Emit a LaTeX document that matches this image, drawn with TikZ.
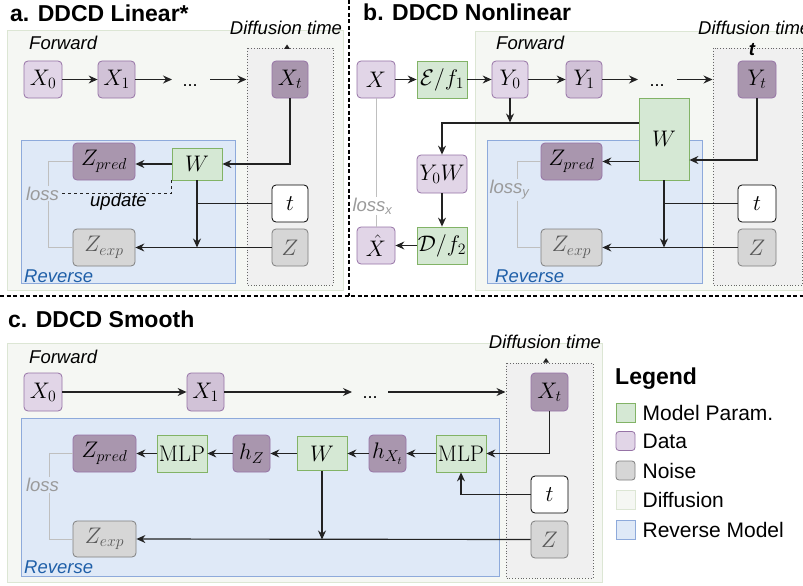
\RequirePackage{fix-cm}
\documentclass[tikz,border=0pt]{standalone}
\usepackage[no-math]{fontspec}
\newfontfamily\lsans{Liberation Sans}
\usetikzlibrary{arrows.meta,calc}

% palette
\definecolor{diffbg}{HTML}{F5F7F3}
\definecolor{diffbd}{HTML}{DCE6D4}
\definecolor{dtbg}{HTML}{F0F0F0}
\definecolor{revbg}{HTML}{DFE9F7}
\definecolor{revbd}{HTML}{8EAADB}
\definecolor{datafill}{HTML}{E1D5E7}
\definecolor{datamid}{HTML}{D1C2D7}
\definecolor{datadark}{HTML}{A996AE}
\definecolor{databd}{HTML}{9673A6}
\definecolor{parfill}{HTML}{D5E8D4}
\definecolor{parbd}{HTML}{82B366}
\definecolor{noisefill}{HTML}{D6D6D6}
\definecolor{noisebd}{HTML}{7F7F7F}
\definecolor{losscol}{HTML}{9A9A9A}
\definecolor{revtxt}{HTML}{1F5FA8}
\definecolor{wire}{HTML}{222222}

\newcommand\boxfnt{\fontsize{22.5}{25}\selectfont}
\newcommand\lblfnt{\lsans\fontsize{18.5}{21}\selectfont\itshape}
\newcommand\ttlfnt{\lsans\fontsize{23}{26}\selectfont\bfseries}
\newcommand\legfnt{\lsans\fontsize{21}{24}\selectfont}

\tikzset{
  sz/.style 2 args={minimum width=#1pt, minimum height=#2pt},
  bx/.style={inner sep=0pt, line width=0.8pt, font=\boxfnt},
  data/.style={bx, rounded corners=4pt, draw=databd, fill=datafill},
  datam/.style={data, fill=datamid},
  datad/.style={data, fill=datadark},
  param/.style={bx, draw=parbd, fill=parfill},
  noise/.style={bx, rounded corners=4pt, draw=noisebd, fill=noisefill, text=black!65},
  tbox/.style={bx, rounded corners=4pt, draw=black, fill=white},
  arr/.style={draw=wire, line width=1.15pt, -{Stealth[length=9pt,width=8pt,inset=3pt]}},
  link/.style={draw=wire, line width=1.15pt},
  lossline/.style={draw=black!25, line width=1pt},
  lbl/.style={font=\lblfnt, inner sep=1pt},
  diffusion/.style={fill=diffbg, draw=diffbd, line width=0.8pt},
  dtime/.style={fill=dtbg, draw=black!60, dotted, line width=0.8pt},
  reverse/.style={fill=revbg, draw=revbd, line width=0.8pt},
  divider/.style={draw=black, line width=1.1pt, dash pattern=on 4pt off 2.5pt},
  legsq/.style={inner sep=0pt, minimum width=19pt, minimum height=19pt, line width=0.8pt},
}

\begin{document}
\begin{tikzpicture}[x=1pt, y=-1pt]
\useasboundingbox (0,0) rectangle (803,586);

% ---------------- panel a: linear ----------------
\node[font=\ttlfnt, anchor=base west, inner sep=0pt] (ta) at (10,21.5) {a. DDCD Linear*};
\draw[diffusion] (7,30) rectangle (343,290);
\draw[dtime] (247,48) rectangle (333,285);
\draw[reverse] (21,140) rectangle (235,283);
\node[lbl, anchor=base west] (afw) at (28,50) {Forward};
\node[lbl, anchor=base] (adt) at (286,35) {Diffusion time};
\fill[wire] (284,49) -- (287,44.5) -- (290,49) -- cycle;
\node[lbl, anchor=base west, text=revtxt] (arv) at (23,282) {Reverse};

\node[data, sz={38}{37}] (aX0) at (43,79.5) {$X_0$};
\node[datam, sz={37}{37}] (aX1) at (116.5,79.5) {$X_1$};
\node[font=\lsans\fontsize{18}{20}\selectfont, anchor=base, inner sep=0pt] (adots) at (190,86) {...};
\node[datad, sz={36}{37}] (aXt) at (290,79.5) {$X_t$};
\coordinate (aE1) at (172,79.5);
\coordinate (aS2) at (210,79.5);
\coordinate (aE2) at (246.5,79.5);

\node[datad, sz={62}{37}] (aZp) at (104,161.5) {$Z_{pred}$};
\node[param, sz={50}{32}] (aW) at (197,164) {$W$};
\node[tbox, sz={36}{37}] (at) at (290,203.5) {$t$};
\node[noise, sz={62}{37}] (aZe) at (104,247.5) {$Z_{exp}$};
\node[noise, sz={36}{37}] (aZ) at (290,247.5) {$Z$};
\node[lbl, text=losscol] (alos) at (42.5,193.5) {loss};
\node[lbl] (aup) at (118.5,202) {update};

\draw[arr] (aX0) -- (aX1);
\draw[arr] (aX1) -- (aE1);
\draw[arr] (aS2) -- (aE2);
\draw[arr] (aXt.south) |- (aW.east);
\draw[arr] (aW.west) -- (aW.west -| aZp.east);
\draw[arr] (aW.south) -- (aW.south |- aZ.west);
\draw[link] (at.west) -- (aW.south |- at.west);
\draw[arr] (aZ.west) -- (aZe.east);
\draw[lossline] (aZp.west) -| ([xshift=5.5pt]alos.north);
\draw[lossline] ([xshift=5.5pt]alos.south) |- (aZe.west);
\draw[link, line width=0.9pt, dashed] ([xshift=2pt]alos.east) -| (aW.south west);

% ---------------- panel b: nonlinear ----------------
\node[font=\ttlfnt, anchor=base west, inner sep=0pt] (tb) at (363,20.5) {b. DDCD Nonlinear};
\draw[diffusion] (475,31) rectangle (810,290);
\draw[dtime] (713,48) rectangle (802,285);
\draw[reverse] (487,140) rectangle (702,283);
\node[lbl, anchor=base west] (bfw) at (495,50) {Forward};
\node[lbl, anchor=base west] (bdt) at (697,35) {Diffusion time};
\node[font=\lsans\fontsize{18.5}{20}\selectfont\bfseries\itshape, inner sep=0pt] (btt) at (752,50) {t};
\node[lbl, anchor=base west, text=revtxt] (brv) at (494,282) {Reverse};

\node[data, sz={38}{37}] (bX) at (376,79.5) {$X$};
\node[param, sz={50}{37}] (bE) at (442,79.5) {$\mathcal{E}/f_1$};
\node[data, sz={36}{37}] (bY0) at (510,79.5) {$Y_0$};
\node[datam, sz={36}{37}] (bY1) at (584,79.5) {$Y_1$};
\node[font=\lsans\fontsize{18}{20}\selectfont, anchor=base, inner sep=0pt] (bdots) at (657,86) {...};
\node[datad, sz={38}{37}] (bYt) at (757,79.5) {$Y_t$};
\coordinate (bE1) at (638,79.5);
\coordinate (bS2) at (677,79.5);
\coordinate (bE2) at (712.5,79.5);

\node[param, sz={50}{82}] (bW) at (664,139) {$W$};
\node[data, sz={50}{38}] (bYW) at (442,174) {$Y_0W$};
\node[param, sz={50}{37}] (bD) at (442,245.5) {$\mathcal{D}/f_2$};
\node[data, sz={38}{37}] (bXh) at (376,245.5) {$\hat{X}$};
\node[datad, sz={61}{37}] (bZp) at (571.5,161.5) {$Z_{pred}$};
\node[noise, sz={61}{37}] (bZe) at (571.5,247.5) {$Z_{exp}$};
\node[tbox, sz={38}{37}] (bt) at (757,203.5) {$t$};
\node[noise, sz={38}{37}] (bZ) at (757,247.5) {$Z$};
\node[lbl, text=losscol] (blx) at (372.5,206) {loss\textsubscript{x}};
\node[lbl, text=losscol] (bly) at (509.5,190) {loss\textsubscript{y}};
\coordinate (bY0j) at (510,122.5);

\draw[arr] (bX) -- (bE);
\draw[arr] (bE) -- (bY0);
\draw[arr] (bY0) -- (bY1);
\draw[arr] (bY1) -- (bE1);
\draw[arr] (bS2) -- (bE2);
\draw[arr] (bY0.south) -- (bY0j);
\draw[arr] ([yshift=16pt]bW.west) -| (bYW.north);
\draw[arr] (bYW) -- (bD);
\draw[arr] (bD) -- (bXh);
\draw[arr] (bYt.south) |- ([yshift=-21pt]bW.east);
\draw[arr] (bW.west |- bZp.east) -- (bZp.east);
\draw[arr] (bW.south) -- (bW.south |- bZ.west);
\draw[link] (bt.west) -- (bW.south |- bt.west);
\draw[arr] (bZ.west) -- (bZe.east);
\draw[lossline] (bX.south) -- (bX.south |- blx.north);
\draw[lossline] (bX.south |- blx.south) -- (bXh.north);
\draw[lossline] (bZp.west) -| ([xshift=7.5pt]bly.north);
\draw[lossline] ([xshift=7.5pt]bly.south) |- (bZe.west);

% section dividers
\draw[divider] (349,0) -- (349,296);
\draw[divider] (0,296) -- (803,296);

% ---------------- panel c: smooth ----------------
\node[font=\ttlfnt, anchor=base west, inner sep=0pt] (tc) at (8,327) {c. DDCD Smooth};
\draw[diffusion] (7,343) rectangle (602,582);
\draw[dtime] (506,363) rectangle (593,578);
\draw[reverse] (21,418) rectangle (499,576);
\node[lbl, anchor=base west] (cfw) at (28,363) {Forward};
\node[lbl, anchor=base] (cdt) at (545,348) {Diffusion time};
\fill[wire] (543,362.5) -- (546,358) -- (549,362.5) -- cycle;
\node[lbl, anchor=base west, text=revtxt] (crv) at (23,573) {Reverse};

\node[data, sz={38}{38}] (cX0) at (43,392) {$X_0$};
\node[datam, sz={37}{38}] (cX1) at (205.5,392) {$X_1$};
\node[font=\lsans\fontsize{18}{20}\selectfont, anchor=base, inner sep=0pt] (cdots) at (370,398) {...};
\node[datad, sz={37}{38}] (cXt) at (549.5,392) {$X_t$};
\coordinate (cE1) at (352,392);
\coordinate (cS2) at (388,392);
\coordinate (cE2) at (505.5,392);

\node[datad, sz={63}{37}] (cZp) at (104.5,453.5) {$Z_{pred}$};
\node[param, sz={50}{37}] (cM1) at (182,453.5) {$\mathrm{MLP}$};
\node[datad, sz={37}{37}] (chZ) at (251.5,453.5) {$h_Z$};
\node[param, sz={50}{34}] (cW) at (322,453.5) {$W$};
\node[datad, sz={37}{37}] (chX) at (387.5,453.5) {$h_{X_t}$};
\node[param, sz={50}{37}] (cM2) at (461,453.5) {$\mathrm{MLP}$};
\node[tbox, sz={37}{37}] (ct) at (549.5,494.5) {$t$};
\node[noise, sz={37}{37}] (cZ) at (549.5,539.5) {$Z$};
\node[noise, sz={63}{36}] (cZe) at (104.5,539) {$Z_{exp}$};
\node[lbl, text=losscol] (clos) at (42.5,485) {loss};

\draw[arr] (cX0) -- (cX1);
\draw[arr] (cX1) -- (cE1);
\draw[arr] (cS2) -- (cE2);
\draw[arr] (cXt.south) |- (cM2.east);
\draw[arr] (cM2) -- (chX);
\draw[arr] (chX) -- (cW);
\draw[arr] (cW) -- (chZ);
\draw[arr] (chZ) -- (cM1);
\draw[arr] (cM1) -- (cZp);
\draw[arr] (ct.west) -| (cM2.south);
\draw[arr] (cW.south) -- (cW.south |- cZ.west);
\draw[arr] (cZ.west) -- (cZe.east);
\draw[lossline] (cZp.west) -| ([xshift=6.5pt]clos.north);
\draw[lossline] ([xshift=6.5pt]clos.south) |- (cZe.west);

% ---------------- legend ----------------
\node[font=\ttlfnt, anchor=base west, inner sep=0pt] (lgt) at (615,384) {Legend};
\node[legsq, draw=parbd, fill=parfill] (lg1) at (625.5,412.5) {};
\node[legsq, rounded corners=3pt, draw=databd, fill=datafill] (lg2) at (625.5,441) {};
\node[legsq, rounded corners=3pt, draw=noisebd, fill=noisefill] (lg3) at (625.5,470.5) {};
\node[legsq, draw=diffbd, fill=diffbg] (lg4) at (625.5,500) {};
\node[legsq, draw=revbd, fill=revbg] (lg5) at (625.5,530) {};
\node[font=\legfnt, anchor=west, inner sep=0pt] at ([xshift=7pt]lg1.east) {Model Param.};
\node[font=\legfnt, anchor=west, inner sep=0pt] at ([xshift=7pt]lg2.east) {Data};
\node[font=\legfnt, anchor=west, inner sep=0pt] at ([xshift=7pt]lg3.east) {Noise};
\node[font=\legfnt, anchor=west, inner sep=0pt] at ([xshift=7pt]lg4.east) {Diffusion};
\node[font=\legfnt, anchor=west, inner sep=0pt] at ([xshift=7pt]lg5.east) {Reverse Model};
\end{tikzpicture}
\end{document}
